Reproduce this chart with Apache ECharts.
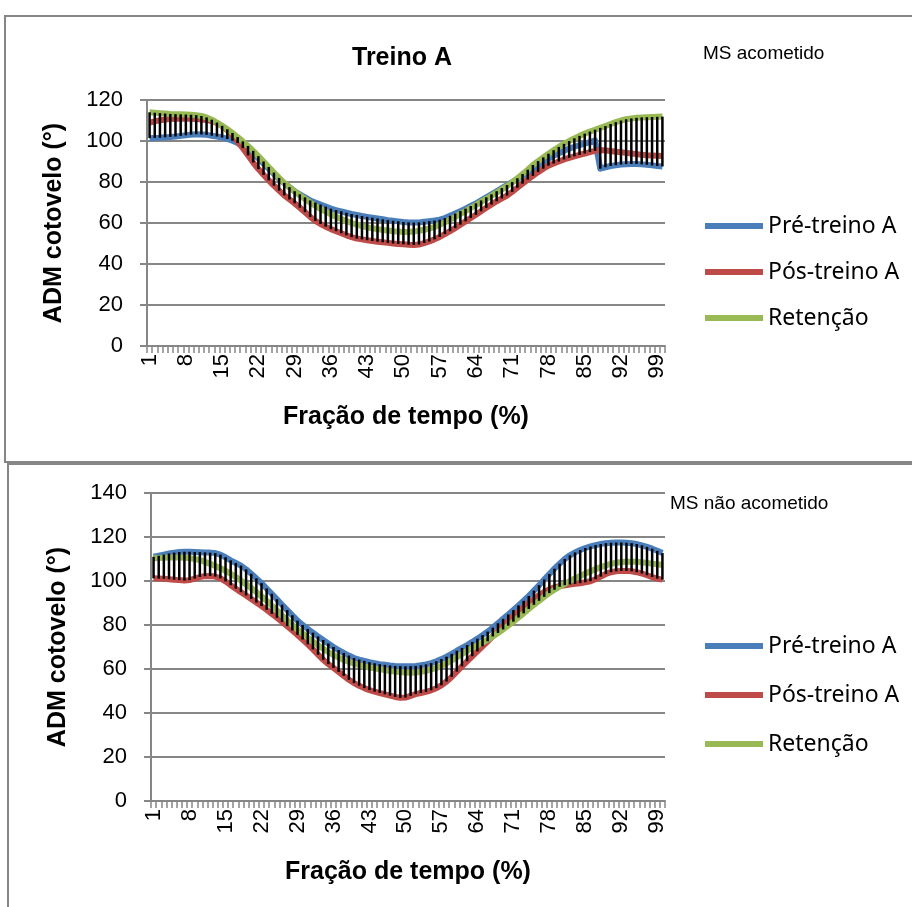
<!DOCTYPE html>
<html>
<head>
<meta charset="utf-8">
<script src="https://cdn.jsdelivr.net/npm/echarts@6/dist/echarts.min.js"></script>
<style>
  html, body { margin: 0; padding: 0; background: #fff; }
  #main { width: 912px; height: 907px; }
</style>
</head>
<body>
<div id="main"></div>
<script>
// MS acometido (painel de cima)
var topPre = [
  101.4, 101.5, 101.6, 101.8, 102, 102.2, 102.5, 102.8, 103.1, 103.3,
  103.2, 103, 102.6, 102.2, 101.7, 101, 100.1, 99, 97.5, 96,
  94, 91.5, 89, 86.5, 84, 81.5, 79.5, 77.5, 75.5, 74,
  72.5, 71, 70, 69, 68, 67, 66.3, 65.7, 65, 64.4,
  63.9, 63.4, 63, 62.6, 62.2, 61.8, 61.4, 61.1, 60.8, 60.5,
  60.3, 60.2, 60.3, 60.6, 60.9, 61.2, 61.6, 62.4, 63.5, 64.6,
  65.8, 67, 68.3, 69.6, 71, 72.5, 74, 75.5, 77, 78.5,
  80, 81.5, 83, 84.5, 86.2, 88, 89.7, 91.3, 92.8, 94,
  95.2, 96.3, 97.2, 98, 98.7, 99.4, 100.3, 86.5, 87.2, 87.8,
  88.2, 88.5, 88.7, 88.8, 88.8, 88.6, 88.4, 88.1, 87.8, 87.6
];
var topPost = [
  109, 109.6, 110.1, 110.5, 110.7, 110.8, 110.9, 110.9, 110.8, 110.7,
  110.5, 110.2, 109.7, 108.8, 107.3, 105.3, 102.8, 99.8, 96.5, 93,
  89.5, 86.3, 83.5, 80.8, 78.2, 75.8, 73.5, 71.5, 69.6, 67.5,
  65.3, 63, 61, 59.5, 58.2, 57, 56, 55, 54, 53.1,
  52.4, 52, 51.6, 51.2, 50.9, 50.6, 50.3, 50, 49.8, 49.6,
  49.4, 49.3, 49.5, 50.2, 51, 52, 53.2, 54.6, 56, 57.5,
  59.2, 60.8, 62.4, 64, 65.7, 67.4, 69, 70.6, 72, 73.4,
  75.2, 77.2, 79.2, 81.2, 83, 84.8, 86.5, 88, 89, 90,
  91, 91.8, 92.5, 93.2, 93.9, 94.6, 95.2, 95.6, 95.4, 95.1,
  94.8, 94.5, 94.2, 93.9, 93.6, 93.3, 93, 92.9, 92.8, 92.7
];
var topRet = [
  114, 113.8, 113.6, 113.4, 113.2, 113.1, 113, 112.9, 112.8, 112.6,
  112.2, 111.5, 110.4, 109, 107.4, 105.7, 103.9, 101.9, 99.8, 97.6,
  95.2, 92.6, 90, 87.3, 84.6, 82, 79.6, 77.4, 75.4, 73.5,
  71.7, 70, 68.4, 66.9, 65.5, 64.2, 63, 61.9, 60.9, 60,
  59.2, 58.5, 57.9, 57.4, 57, 56.6, 56.3, 56, 55.8, 55.6,
  55.6, 55.8, 56.2, 56.7, 57.3, 58.1, 59.1, 60.3, 61.6, 63,
  64.4, 65.8, 67.3, 68.8, 70.3, 71.8, 73.3, 74.8, 76.4, 78,
  79.8, 81.8, 83.9, 86, 88.3, 90.2, 92, 93.8, 95.5, 97.1,
  98.6, 100, 101.3, 102.5, 103.6, 104.6, 105.5, 106.4, 107.3, 108.3,
  109.2, 110, 110.6, 111, 111.3, 111.5, 111.6, 111.7, 111.8, 111.9
];

// MS não acometido (painel de baixo)
var botPre = [
  111, 111.5, 112, 112.5, 112.9, 113.2, 113.3, 113.3, 113.2, 113.1,
  113, 112.9, 112.7, 112, 110.8, 109.4, 108.2, 107, 105.3, 103.3,
  101.2, 99, 96.6, 94.2, 91.7, 89.2, 86.8, 84.4, 82, 80,
  78.2, 76.5, 74.8, 73.2, 71.6, 70, 68.6, 67.3, 66.1, 65,
  64.3, 63.7, 63.1, 62.6, 62.2, 61.9, 61.6, 61.4, 61.3, 61.2,
  61.3, 61.4, 61.7, 62.1, 62.7, 63.5, 64.5, 65.6, 66.9, 68.3,
  69.6, 70.9, 72.3, 73.8, 75.4, 77, 78.8, 80.8, 82.8, 84.8,
  86.8, 88.9, 91, 93.2, 95.6, 98.1, 100.7, 103.2, 105.6, 107.9,
  110, 111.7, 113, 114.1, 115, 115.7, 116.3, 116.8, 117.2, 117.4,
  117.5, 117.5, 117.4, 117.2, 116.8, 116.2, 115.5, 114.7, 113.7, 112.7
];
var botPost = [
  101.2, 101.1, 101, 100.8, 100.6, 100.4, 100.2, 100.4, 101.1, 101.8,
  102.2, 102.3, 102, 101.2, 99.8, 98.1, 96.5, 94.9, 93.4, 91.8,
  90.2, 88.6, 86.9, 85.1, 83.3, 81.4, 79.5, 77.5, 75.5, 73.4,
  71.2, 68.9, 66.5, 64.2, 62.2, 60.5, 58.7, 56.9, 55.1, 53.6,
  52.4, 51.3, 50.4, 49.7, 49.1, 48.5, 47.9, 47.3, 46.9, 47,
  47.8, 48.6, 49.1, 49.6, 50.3, 51.3, 52.6, 54.3, 56.4, 58.8,
  61.2, 63.5, 65.8, 68, 70.3, 72.6, 74.9, 77.2, 79.5, 81.8,
  84, 86, 88, 90, 91.8, 93.5, 95, 96.2, 97.1, 97.7,
  98.1, 98.4, 98.7, 99, 99.4, 99.9, 100.8, 102, 103.2, 104,
  104.4, 104.6, 104.6, 104.4, 104, 103.4, 102.6, 101.8, 101.1, 100.6
];
var botRet = [
  110.3, 110.5, 110.6, 110.7, 110.7, 110.7, 110.6, 110.4, 110, 109.5,
  108.7, 107.8, 106.8, 105.8, 104.6, 103.3, 101.8, 100.2, 98.5, 96.8,
  95, 93, 91, 88.8, 86.6, 84.4, 82.2, 80, 78, 76.2,
  74.3, 72.5, 70.8, 69.2, 67.7, 66.4, 65.2, 64.1, 63.2, 62.5,
  61.8, 61.2, 60.7, 60.3, 59.9, 59.5, 59.1, 58.8, 58.6, 58.4,
  58.3, 58.4, 58.7, 59.2, 59.8, 60.5, 61.5, 62.6, 63.9, 65.3,
  66.8, 68.2, 69.5, 70.8, 72, 73.3, 74.8, 76.4, 78, 79.7,
  81.5, 83.4, 85.3, 87.3, 89.2, 91, 92.8, 94.5, 96, 97.4,
  98.7, 100, 101.2, 102.3, 103.4, 104.4, 105.4, 106.3, 107.1, 107.8,
  108.3, 108.6, 108.8, 108.8, 108.7, 108.5, 108.2, 107.9, 107.6, 107.3
];

var categories = [];
for (var i = 1; i <= 100; i++) categories.push(String(i));

var names = ['Pré-treino A', 'Pós-treino A', 'Retenção'];
var colors = ['#4A7EBB', '#BE4B48', '#98B954'];
var font = 'Liberation Sans';

// linhas máx-mín (como as "high-low lines" do Excel)
function highLow(a, b, c) {
  return a.map(function (v, k) {
    return [k, Math.min(v, b[k], c[k]), Math.max(v, b[k], c[k])];
  });
}
function renderHL(params, api) {
  var lo = api.coord([api.value(0), api.value(1)]);
  var hi = api.coord([api.value(0), api.value(2)]);
  return {
    type: 'line',
    shape: { x1: lo[0], y1: lo[1], x2: hi[0], y2: hi[1] },
    style: { stroke: '#000', lineWidth: 2.5 }
  };
}

function xAxisFor(gi, gap) {
  return {
    type: 'category', gridIndex: gi, data: categories, boundaryGap: true,
    axisLine: { lineStyle: { color: '#868686', width: 2 } },
    axisTick: { show: true, interval: 0, length: 7, lineStyle: { color: '#868686', width: 1.5 } },
    axisLabel: { interval: 6, rotate: 90, margin: 8, color: '#000', fontSize: 22, fontFamily: font },
    splitLine: { show: false },
    name: 'Fração de tempo (%)', nameLocation: 'middle', nameGap: gap,
    nameTextStyle: { fontSize: 25, fontWeight: 'bold', color: '#000', fontFamily: font }
  };
}
function yAxisFor(gi, max) {
  return {
    type: 'value', gridIndex: gi, min: 0, max: max, interval: 20,
    axisLine: { show: true, lineStyle: { color: '#868686', width: 2 } },
    axisTick: { show: true, length: 7, lineStyle: { color: '#868686', width: 2 } },
    axisLabel: { margin: 24, color: '#000', fontSize: 22, fontFamily: font },
    splitLine: { lineStyle: { color: '#868686', width: 2 } },
    name: 'ADM cotovelo (°)', nameLocation: 'middle', nameGap: 80,
    nameTextStyle: { fontSize: 25, fontWeight: 'bold', color: '#000', fontFamily: font }
  };
}
function lineSeries(k, gi, data) {
  return {
    name: names[k], type: 'line', xAxisIndex: gi, yAxisIndex: gi, data: data,
    showSymbol: false, symbol: 'none', color: colors[k],
    lineStyle: { width: 6, color: colors[k], join: 'round' },
    emphasis: { disabled: true }
  };
}
function legendFor(top, gap) {
  return {
    data: names, orient: 'vertical', left: 700, top: top,
    itemWidth: 58, itemHeight: 6, itemGap: gap, icon: 'rect',
    textStyle: { fontSize: 23, fontFamily: 'Noto Sans', color: '#000', lineHeight: 24 }
  };
}

var option = {
  animation: false,
  backgroundColor: '#fff',
  graphic: [
    { type: 'rect', silent: true, z: -10, shape: { x: 5, y: 16, width: 950, height: 446 },
      style: { fill: 'none', stroke: '#868686', lineWidth: 2 } },
    { type: 'rect', silent: true, z: -10, shape: { x: 8, y: 464, width: 950, height: 500 },
      style: { fill: 'none', stroke: '#868686', lineWidth: 2 } }
  ],
  title: [
    { text: 'Treino A', left: 352, top: 46, padding: 0,
      textStyle: { fontSize: 25, fontWeight: 'bold', color: '#000', fontFamily: font } },
    { text: 'MS acometido', left: 703, top: 44, padding: 0,
      textStyle: { fontSize: 19, fontWeight: 'normal', color: '#000', fontFamily: font } },
    { text: 'MS não acometido', left: 670, top: 494, padding: 0,
      textStyle: { fontSize: 19, fontWeight: 'normal', color: '#000', fontFamily: font } }
  ],
  legend: [legendFor(209, 22), legendFor(629, 25)],
  grid: [
    { left: 147, right: 247, top: 100, bottom: 561 },
    { left: 151, right: 247, top: 493, bottom: 106 }
  ],
  xAxis: [xAxisFor(0, 59), xAxisFor(1, 59)],
  yAxis: [yAxisFor(0, 120), yAxisFor(1, 140)],
  series: [
    lineSeries(0, 0, topPre),
    lineSeries(1, 0, topPost),
    lineSeries(2, 0, topRet),
    { type: 'custom', xAxisIndex: 0, yAxisIndex: 0, renderItem: renderHL,
      data: highLow(topPre, topPost, topRet), z: 5, silent: true },
    lineSeries(0, 1, botPre),
    lineSeries(1, 1, botPost),
    lineSeries(2, 1, botRet),
    { type: 'custom', xAxisIndex: 1, yAxisIndex: 1, renderItem: renderHL,
      data: highLow(botPre, botPost, botRet), z: 5, silent: true }
  ]
};

var myChart = echarts.init(document.getElementById('main'));
myChart.setOption(option);
</script>
</body>
</html>
